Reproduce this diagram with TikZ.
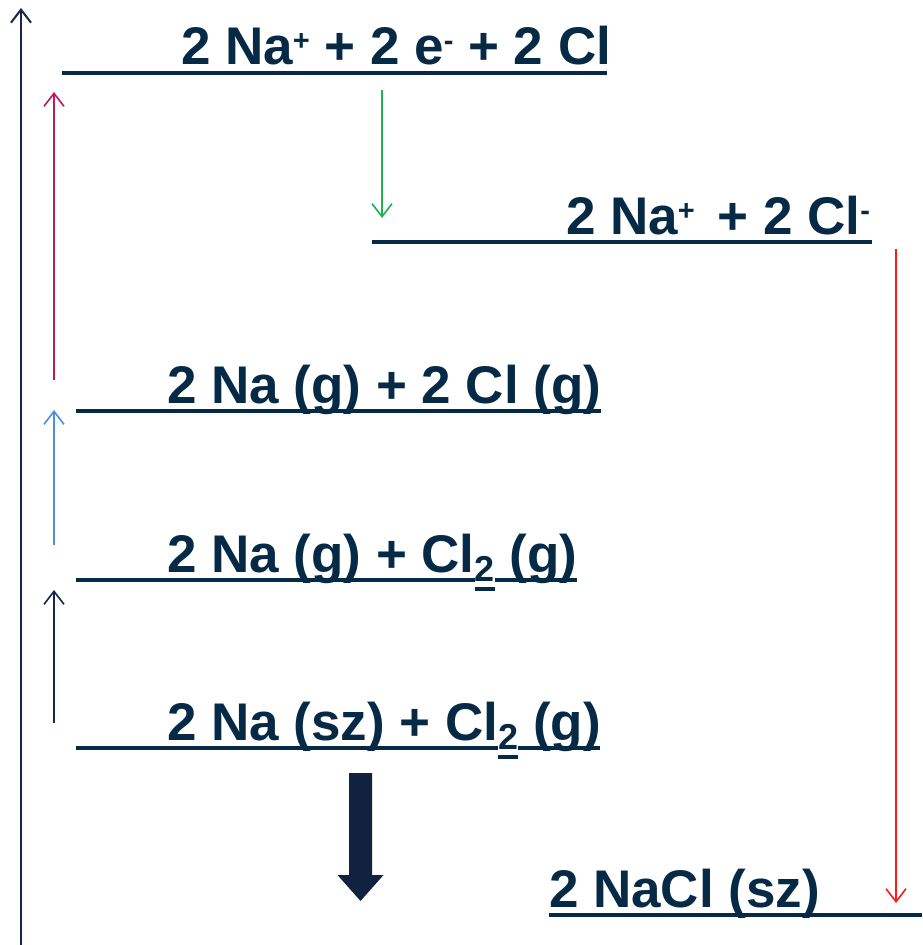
\documentclass[tikz,border=0pt]{standalone}
\usepackage{fontspec}
\setmainfont{Liberation Sans}
\usetikzlibrary{arrows.meta}
\definecolor{txt}{HTML}{062A45}
\definecolor{axiscol}{HTML}{13284A}
\definecolor{crim}{HTML}{C2185B}
\definecolor{blu}{HTML}{4A90E2}
\definecolor{grn}{HTML}{1DB34E}
\definecolor{rd}{HTML}{FF1A1A}
\definecolor{bigcol}{HTML}{10223F}
\newcommand\supr[1]{\raisebox{14pt}{\fontsize{29}{29}\selectfont #1}}
\begin{document}
\begin{tikzpicture}[x=1pt,y=-1pt,
  lbl/.style={text=txt, font=\fontsize{53}{53}\selectfont\bfseries, inner sep=0pt, outer sep=0pt, anchor=base west},
  sublbl/.style={text=txt, font=\fontsize{36}{36}\selectfont\bfseries, inner sep=0pt, outer sep=0pt, anchor=base west},
  lvl/.style={draw=txt, line width=4.5pt},
  arr/.style={line width=1.6pt, -{Straight Barb[length=13pt,width=20pt]}}]
\useasboundingbox[fill=white] (0,0) rectangle (922,945);

% level lines end points
\coordinate (l1a) at (62,73);  \coordinate (l1b) at (607,73);
\coordinate (l2a) at (372,242); \coordinate (l2b) at (872,242);
\coordinate (l3a) at (76,411); \coordinate (l3b) at (601,411);
\coordinate (l4a) at (76,580); \coordinate (l4b) at (577,580);
\coordinate (l5a) at (76,748); \coordinate (l5b) at (600,748);
\coordinate (l6a) at (549,915); \coordinate (l6b) at (922,915);

% texts
\node[lbl] (t1) at (181,64) {2 Na\supr{+} + 2 e\supr{-} + 2 Cl};
\node[lbl] (t2) at (566,234) {2 Na\supr{+}\hspace{8pt} + 2 Cl\supr{-}};
\node[lbl] (t3) at (167,403) {2 Na (g) + 2 Cl (g)};
\node[lbl] (t4a) at (167,572) {2 Na (g) + Cl};
\node[sublbl] (t4s) at ([yshift=-9pt]t4a.base east) {2};
\node[lbl] (t4b) at (t4s.base east |- t4a.base) {\ (g)};
\node[lbl] (t5a) at (167,740) {2 Na (sz) + Cl};
\node[sublbl] (t5s) at ([yshift=-9pt]t5a.base east) {2};
\node[lbl] (t5b) at (t5s.base east |- t5a.base) {\ (g)};
\node[lbl] (t6) at (549,907) {2 NaCl (sz)};

% level lines
\draw[lvl] (l1a) -- (l1b);
\draw[lvl] (l2a) -- (l2b);
\draw[lvl] (l3a) -- (l3b);
\draw[lvl] (l4a) -- (l4a -| t4s.west);
\draw[lvl] (l4a -| t4s.east) -- (l4b);
\draw[lvl] ([yshift=-8pt]t4s.base west) -- ([yshift=-8pt]t4s.base east);
\draw[lvl] (l5a) -- (l5a -| t5s.west);
\draw[lvl] (l5a -| t5s.east) -- (l5b);
\draw[lvl] ([yshift=-8pt]t5s.base west) -- ([yshift=-8pt]t5s.base east);
\draw[lvl] (l6a) -- (l6b);

% arrows
\coordinate (ax0) at (21,945); \coordinate (ax1) at (21,8);
\draw[arr, axiscol, line width=2pt] (ax0) -- (ax1);
\coordinate (c0) at (54,380); \coordinate (c1) at (54,92);
\draw[arr, crim] (c0) -- (c1);
\coordinate (b0) at (54,545); \coordinate (b1) at (54,410);
\draw[arr, blu] (b0) -- (b1);
\coordinate (n0) at (54,723); \coordinate (n1) at (54,590);
\draw[arr, axiscol] (n0) -- (n1);
\coordinate (g0) at (382,90); \coordinate (g1) at (382,218);
\draw[arr, grn] (g0) -- (g1);
\coordinate (r0) at (896,249); \coordinate (r1) at (896,903);
\draw[arr, rd] (r0) -- (r1);

% big downward arrow
\fill[bigcol] (349,773) -- (372,773) -- (372,875) -- (383.5,875) -- (360.5,901)
  -- (337.5,875) -- (349,875) -- cycle;
\end{tikzpicture}
\end{document}
